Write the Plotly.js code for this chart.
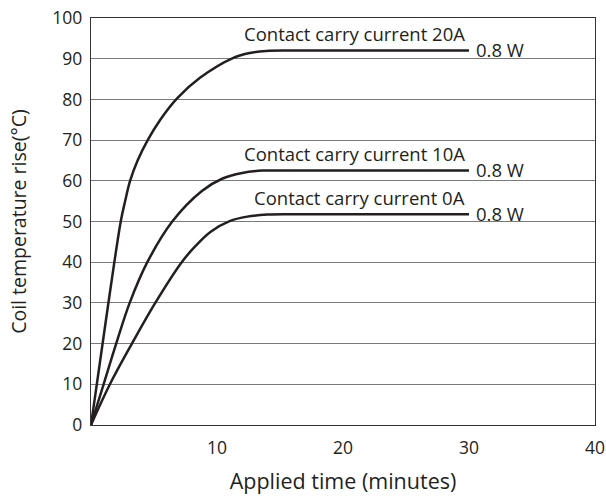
<!DOCTYPE html>
<html>
<head>
<meta charset="utf-8">
<script src="https://cdn.plot.ly/plotly-3.0.1.min.js"></script>
<style>
  html, body { margin: 0; padding: 0; background: #fff; }
  #chart { width: 606px; height: 497px; }
</style>
</head>
<body>
<div id="chart"></div>
<script>
// Coil temperature rise vs. applied time, for three contact carry currents
const time20A = [0, 1.15, 2.36, 2.7, 3.1, 3.7, 4.5, 5.5, 6.85, 8.65, 11.3, 12.6, 13.9, 16, 30];
const rise20A = [0, 25, 50, 54.9, 60, 65, 70, 75, 80.3, 85.3, 90.2, 91.4, 91.9, 92, 92];

const time10A = [0, 1.0, 2.0, 3.07, 4.47, 6.45, 8.8, 10.4, 12.0, 13.6, 16, 30];
const rise10A = [0, 10, 20, 30, 40, 50, 57.5, 60.5, 61.9, 62.5, 62.5, 62.5];

const time0A = [0, 1.5, 3.25, 5.1, 7.2, 8.3, 9.5, 11.0, 12.4, 14.0, 16, 30];
const rise0A = [0, 10, 20, 30, 40, 44, 47.5, 50.1, 51.2, 51.7, 51.8, 51.8];

const seriesNames = ['Contact carry current 20A', 'Contact carry current 10A', 'Contact carry current 0A'];
const powerLabel = '0.8 W';

const xTicks = [10, 20, 30, 40];
const yTicks = [0, 10, 20, 30, 40, 50, 60, 70, 80, 90, 100];

const ink = '#231f20';
const font = 'Open Sans, Noto Sans, sans-serif';

const series = [
  { x: time20A, y: rise20A, name: seriesNames[0] },
  { x: time10A, y: rise10A, name: seriesNames[1] },
  { x: time0A,  y: rise0A,  name: seriesNames[2] }
];

const traces = series.map(s => ({
  type: 'scatter',
  mode: 'lines',
  x: s.x,
  y: s.y,
  name: s.name,
  line: { color: ink, width: 2.5, shape: 'spline', smoothing: 1 },
  hoverinfo: 'x+y'
}));

// Curve label above each plateau end, power rating to its right
const annotations = [];
series.forEach(s => {
  const xEnd = s.x[s.x.length - 1];
  const yEnd = s.y[s.y.length - 1];
  annotations.push({
    x: xEnd, y: yEnd, xref: 'x', yref: 'y',
    text: s.name, showarrow: false,
    xanchor: 'right', yanchor: 'middle',
    xshift: -2, yshift: 17,
    font: { family: font, size: 18.5, color: ink }
  });
  annotations.push({
    x: xEnd, y: yEnd, xref: 'x', yref: 'y',
    text: powerLabel, showarrow: false,
    xanchor: 'left', yanchor: 'middle',
    xshift: 5, yshift: 1,
    font: { family: font, size: 18.5, color: ink }
  });
});

const layout = {
  width: 606,
  height: 497,
  margin: { l: 91, r: 11, t: 18, b: 72 },
  paper_bgcolor: '#ffffff',
  plot_bgcolor: '#ffffff',
  showlegend: false,
  font: { family: font, color: ink, size: 17.5 },
  xaxis: {
    range: [0, 40],
    tickvals: xTicks,
    ticktext: xTicks.map(String),
    showgrid: false,
    zeroline: false,
    showline: true,
    mirror: true,
    linecolor: '#333333',
    linewidth: 1.2,
    ticks: '',
    ticklabelstandoff: 7,
    tickfont: { family: font, size: 17.5, color: ink },
    title: { text: 'Applied time (minutes)', font: { family: font, size: 21.5, color: ink }, standoff: 15 },
    fixedrange: true
  },
  yaxis: {
    range: [0, 100],
    tickvals: yTicks,
    ticktext: yTicks.map(String),
    showgrid: true,
    gridcolor: '#7a7a7a',
    gridwidth: 1.2,
    zeroline: false,
    showline: true,
    mirror: true,
    linecolor: '#333333',
    linewidth: 1.2,
    ticks: '',
    ticklabelstandoff: 4,
    tickfont: { family: font, size: 17.5, color: ink },
    title: { text: 'Coil temperature rise(°C)', font: { family: font, size: 19.5, color: ink }, standoff: 20 },
    fixedrange: true
  },
  annotations: annotations
};

Plotly.newPlot('chart', traces, layout, { displayModeBar: false, staticPlot: true });
</script>
</body>
</html>
